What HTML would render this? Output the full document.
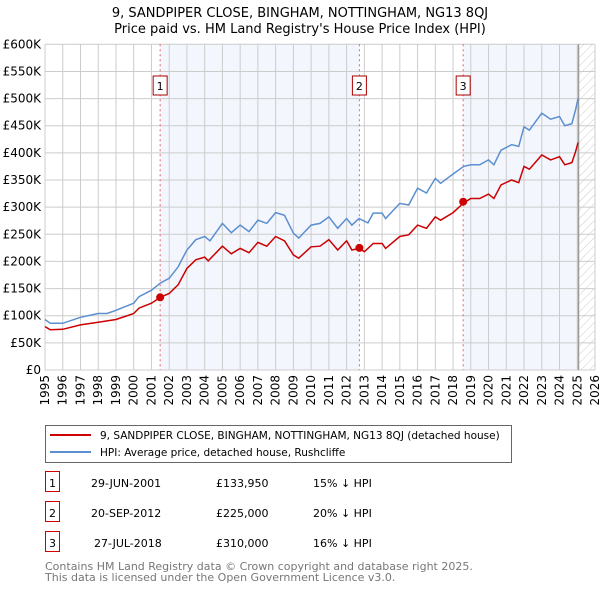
<!DOCTYPE html>
<html><head><meta charset="utf-8"><style>
body{margin:0;background:#fff;font-family:"Liberation Sans","DejaVu Sans",sans-serif;}
svg text{font-family:"DejaVu Sans","Liberation Sans",sans-serif;}
</style></head><body>
<svg id="chart" width="600" height="590" xmlns="http://www.w3.org/2000/svg">
<defs><pattern id="hatch" width="6" height="6" patternUnits="userSpaceOnUse" patternTransform="rotate(45)"><line x1="0" y1="0" x2="0" y2="6" stroke="#ccc" stroke-width="1"/></pattern></defs>
<text x="300" y="17" text-anchor="middle" font-size="13">9, SANDPIPER CLOSE, BINGHAM, NOTTINGHAM, NG13 8QJ</text>
<text x="300" y="33" text-anchor="middle" font-size="13">Price paid vs. HM Land Registry's House Price Index (HPI)</text>
<g id="plot"></g>
<rect x="45.5" y="425.5" width="466" height="37" fill="#fff" stroke="#666"/>
<line x1="50" y1="435" x2="91" y2="435" stroke="#cc0000" stroke-width="2"/>
<text x="100" y="439" font-size="10.5">9, SANDPIPER CLOSE, BINGHAM, NOTTINGHAM, NG13 8QJ (detached house)</text>
<line x1="50" y1="452" x2="91" y2="452" stroke="#5b8fd0" stroke-width="2"/>
<text x="100" y="456" font-size="10.5">HPI: Average price, detached house, Rushcliffe</text>
<g id="table" font-size="11"></g>
<text x="45" y="570" font-size="11" fill="#777">Contains HM Land Registry data © Crown copyright and database right 2025.</text>
<text x="45" y="581" font-size="11" fill="#777">This data is licensed under the Open Government Licence v3.0.</text>
</svg>
<script>
const hpiYears=[1995,1995.3,1996,1997,1998,1998.5,1999,2000,2000.3,2001,2001.5,2002,2002.5,2003,2003.5,2004,2004.3,2005,2005.5,2006,2006.5,2007,2007.5,2008,2008.5,2009,2009.3,2010,2010.5,2011,2011.5,2012,2012.3,2012.7,2013.2,2013.5,2014,2014.2,2015,2015.5,2016,2016.5,2017,2017.3,2018,2018.6,2019,2019.5,2020,2020.3,2020.7,2021.3,2021.7,2022,2022.3,2023,2023.5,2024,2024.3,2024.7,2024.9,2025.05];
const hpiValues=[93,86,86,97,104,104,110,123,135,147,160,169,190,221,240,246,238,270,253,267,255,276,270,290,285,252,243,267,270,282,261,279,267,279,271,289,289,279,307,304,335,326,353,344,361,375,378,378,387,378,405,415,412,448,442,473,462,467,450,454,479,500];
const priceYears=[1995,1995.3,1996,1997,1998,1999,2000,2000.3,2001,2001.5,2002,2002.5,2003,2003.5,2004,2004.2,2005,2005.5,2006,2006.5,2007,2007.5,2008,2008.5,2009,2009.3,2010,2010.5,2011,2011.5,2012,2012.3,2012.7,2013,2013.5,2014,2014.2,2015,2015.5,2016,2016.5,2017,2017.3,2018,2018.6,2019,2019.5,2020,2020.3,2020.7,2021.3,2021.7,2022,2022.3,2023,2023.5,2024,2024.3,2024.7,2024.9,2025.05];
const priceValues=[80,74,75,83,88,93,104,114,123,134,141,157,187,203,208,201,228,214,224,216,235,228,246,238,212,206,227,228,240,221,238,221,224,218,233,233,224,246,249,267,261,282,276,290,308,316,316,324,316,341,350,345,375,370,396,387,393,378,382,402,419];
const saleYears=[2001.49,2012.72,2018.57];
const saleValues=[133.95,225,310];
const saleLabels=["1","2","3"];
const saleDates=["29-JUN-2001","20-SEP-2012","27-JUL-2018"];
const salePrices=["£133,950","£225,000","£310,000"];
const saleDiffs=["15% ↓ HPI","20% ↓ HPI","16% ↓ HPI"];
const yTicks=[0,50,100,150,200,250,300,350,400,450,500,550,600];
const yTickLabels=["£0","£50K","£100K","£150K","£200K","£250K","£300K","£350K","£400K","£450K","£500K","£550K","£600K"];
const xTicks=[];for(let y=1995;y<=2026;y++)xTicks.push(y);
const dataEnd=2025.07;

const X0=45,X1=595,Y0=370,Y1=44.3;
const xs=v=>X0+(v-1995)/31*(X1-X0);
const ys=v=>Y0-v/600*(Y0-Y1);
const NS="http://www.w3.org/2000/svg";
const plot=document.getElementById('plot');
function mk(tag,attrs,parent){const e=document.createElementNS(NS,tag);for(const k in attrs)e.setAttribute(k,attrs[k]);(parent||plot).appendChild(e);return e;}
let r=mk('rect',{x:xs(saleYears[0]),y:Y1,width:xs(saleYears[1])-xs(saleYears[0]),height:Y0-Y1,fill:'#f3f6fd'});

r=mk('rect',{x:xs(saleYears[2]),y:Y1,width:xs(dataEnd)-xs(saleYears[2]),height:Y0-Y1,fill:'#f3f6fd'});

r=mk('rect',{x:xs(dataEnd),y:Y1,width:X1-xs(dataEnd),height:Y0-Y1,fill:'url(#hatch)'});

yTicks.forEach((t,i)=>{
 const l=mk('line',{x1:X0,x2:X1,y1:ys(t),y2:ys(t),stroke:'#ccc'});
 
 const tx=mk('text',{x:X0-4,y:ys(t)+4,'text-anchor':'end','font-size':12});
 
 tx.textContent=yTickLabels[i];
});
xTicks.forEach(t=>{
 const l=mk('line',{x1:xs(t),x2:xs(t),y1:Y1,y2:Y0,stroke:'#ccc'});
 
 const tx=mk('text',{x:0,y:0,'text-anchor':'end','font-size':12,transform:`translate(${xs(t)+4},${Y0+5}) rotate(-90)`});
 
 tx.textContent=t;
});
let el=mk('line',{x1:xs(dataEnd),x2:xs(dataEnd),y1:Y1,y2:Y0,stroke:'#999','stroke-width':1.5});

saleYears.forEach((s,i)=>{
 const l=mk('line',{x1:xs(s),x2:xs(s),y1:Y1,y2:Y0,stroke:'#e06666','stroke-dasharray':'2,3'});
 
 const b=mk('rect',{x:xs(s)-7,y:76,width:14,height:19,fill:'#fff',stroke:'#aa0000'});
 
 const t=mk('text',{x:xs(s),y:90,'text-anchor':'middle','font-size':11});
 
 t.textContent=saleLabels[i];
});
function line(xsArr,vs,color,name){
 const d=xsArr.map((x,i)=>(i?'L':'M')+xs(x).toFixed(1)+','+ys(vs[i]).toFixed(1)).join('');
 const p=mk('path',{d:d,fill:'none',stroke:color,'stroke-width':1.5});
 
}
line(hpiYears,hpiValues,'#5b8fd0','hpi-line');
line(priceYears,priceValues,'#cc0000','price-line');
saleYears.forEach((s,i)=>{
 const c=mk('circle',{cx:xs(s),cy:ys(saleValues[i]),r:4,fill:'#cc0000'});
 
});
const tb=document.getElementById('table');
const rowY=[483,513,543];
saleLabels.forEach((lab,i)=>{
 const y=rowY[i];
 const b=mk('rect',{x:45.5,y:y-11.5,width:14,height:20,fill:'#fff',stroke:'#cc0000'},tb);
 
 const cols=[[52.5,lab,'middle'],[i==2?94:91,saleDates[i],'start'],[216,salePrices[i],'start'],[313,saleDiffs[i],'start']];
 cols.forEach(c=>{const t=mk('text',{x:c[0],y:y+4,'text-anchor':c[2]},tb);
  t.textContent=c[1];});
});
</script>
</body></html>
